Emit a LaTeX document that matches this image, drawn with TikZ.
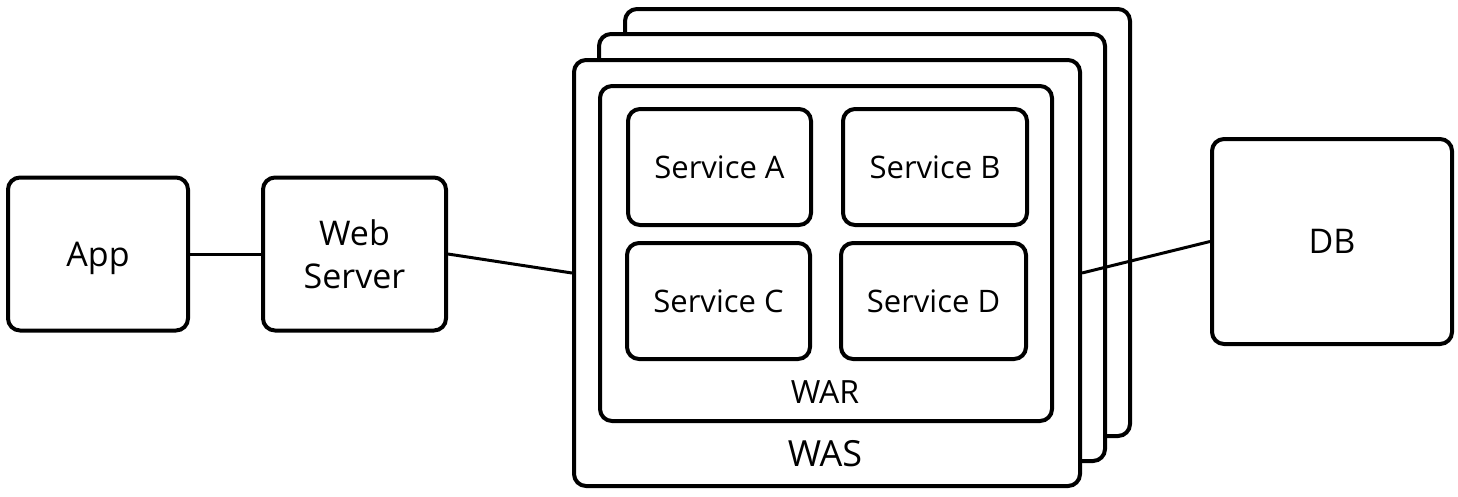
\documentclass[tikz,border=0pt]{standalone}
\usepackage{fontspec}
\setmainfont{Open Sans}
\begin{document}
\begin{tikzpicture}[x={(1pt,0)},y={(0,-1pt)},
  box/.style={draw=black,fill=white,line width=4pt,rounded corners=12pt,rectangle,inner sep=0pt,align=center},
  big/.style={font=\fontsize{34}{43}\selectfont},
  svc/.style={box,minimum height=116pt,font=\fontsize{31}{36}\selectfont},
  conn/.style={draw=black,line width=3pt}]
\useasboundingbox (0,0) rectangle (1458,496);
\node[box,big,minimum width=180pt,minimum height=153pt] (app) at (98,254) {\raisebox{-12pt}[0pt][0pt]{App}};
\node[box,big,minimum width=183pt,minimum height=153pt] (web) at (354.5,254) {Web\\Server};
\node[box,minimum width=505pt,minimum height=427pt] (was2) at (877.5,222.5) {};
\node[box,minimum width=506pt,minimum height=427pt] (was1) at (852,247.5) {};
\node[box,minimum width=506pt,minimum height=426pt] (was) at (827,273) {};
\node[box,minimum width=452pt,minimum height=335pt] (war) at (826,253.5) {};
\node[svc,minimum width=183pt] (sa) at (719.5,167) {Service A};
\node[svc,minimum width=184pt] (sb) at (935,167) {Service B};
\node[svc,minimum width=183pt] (sc) at (718.5,301) {Service C};
\node[svc,minimum width=185pt] (sd) at (933.5,301) {Service D};
\node[font=\fontsize{32}{36}\selectfont,inner sep=0pt] (warl) at (825,392) {WAR};
\node[font=\fontsize{36}{40}\selectfont,inner sep=0pt] (wasl) at (825,454) {WAS};
\node[box,big,minimum width=240pt,minimum height=205pt] (db) at (1332,241.5) {DB};
\draw[conn] (app.east) -- (web.west);
\draw[conn] (web.east) -- (was.west);
\draw[conn] (was.east) -- (db.west);
\end{tikzpicture}
\end{document}
